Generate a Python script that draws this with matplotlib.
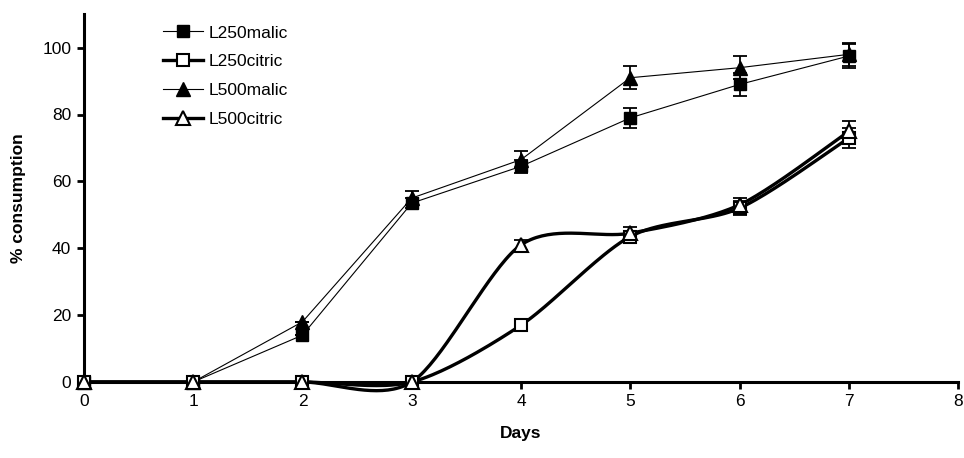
import numpy as np
import matplotlib
matplotlib.use("Agg")
import matplotlib.pyplot as plt
from matplotlib.lines import Line2D

plt.rcParams['font.family'] = ['Liberation Sans', 'DejaVu Sans']

days = [0, 1, 2, 3, 4, 5, 6, 7]
l250_malic = [0, 0, 14, 53.5, 64.5, 79, 89, 97.5]
l250_malic_err = [0, 0, 0, 1.5, 2, 3, 3.5, 3.5]
l500_malic = [0, 0, 18, 55, 66.5, 91, 94, 98]
l500_malic_err = [0, 0, 0, 2, 2.5, 3.5, 3.5, 3.5]
l250_citric = [0, 0, 0, 0, 17, 43.5, 52, 73]
l250_citric_err = [0, 0, 0, 0, 0, 1.5, 2, 3]
l500_citric = [0, 0, 0, 0, 41, 44.5, 53, 75]
l500_citric_err = [0, 0, 0, 0, 1.5, 2, 2, 3]


def smooth(xs, ys, n=40, k=6.0):
    # Catmull-Rom style Bezier smoothing (like spreadsheet "smoothed line")
    P = np.column_stack([xs, ys]).astype(float)
    out = []
    for i in range(len(P) - 1):
        p0 = P[i - 1] if i > 0 else P[i]
        p1 = P[i]
        p2 = P[i + 1]
        p3 = P[i + 2] if i + 2 < len(P) else P[i + 1]
        c1 = p1 + (p2 - p0) / k
        c2 = p2 - (p3 - p1) / k
        t = np.linspace(0, 1, n)[:, None]
        seg = ((1 - t) ** 3) * p1 + 3 * ((1 - t) ** 2) * t * c1 + 3 * (1 - t) * t ** 2 * c2 + t ** 3 * p2
        out.append(seg if i == 0 else seg[1:])
    out = np.vstack(out)
    return out[:, 0], out[:, 1]


fig = plt.figure(figsize=(9.64, 4.58), dpi=100)
ax = fig.add_axes([0.087, 0.166, 0.907, 0.803])

thin = 0.8
thick = 2.4
ms = 10

# malic series (thin straight lines)
ax.errorbar(days, l500_malic, yerr=l500_malic_err, color='black', lw=thin,
            marker='^', ms=ms, mfc='black', mec='black', ecolor='black',
            elinewidth=1.3, capsize=5, capthick=1.3, zorder=3, clip_on=False)
ax.errorbar(days, l250_malic, yerr=l250_malic_err, color='black', lw=thin,
            marker='s', ms=ms - 1, mfc='black', mec='black', ecolor='black',
            elinewidth=1.3, capsize=5, capthick=1.3, zorder=3, clip_on=False)

# citric series (thick smoothed lines)
for ys, err, mk in [(l250_citric, l250_citric_err, 's'), (l500_citric, l500_citric_err, '^')]:
    sx, sy = smooth(days, ys, k=7.0)
    ax.plot(sx, sy, color='black', lw=thick, zorder=4, solid_capstyle='round', clip_on=False)
    ax.errorbar(days, ys, yerr=err, fmt='none', ecolor='black', elinewidth=1.3,
                capsize=5, capthick=1.3, zorder=4)
    ax.plot(days, ys, linestyle='none', marker=mk, ms=ms - (1 if mk == 's' else 0),
            mfc='white', mec='black', mew=1.5, zorder=5, clip_on=False)

ax.set_xlim(0, 8)
ax.set_ylim(0, 110)
ax.set_xticks(range(0, 9))
ax.set_yticks(range(0, 101, 20))
ax.spines['top'].set_visible(False)
ax.spines['right'].set_visible(False)
for s in ['left', 'bottom']:
    ax.spines[s].set_linewidth(2.2)
ax.tick_params(axis='both', direction='out', length=5, width=2, labelsize=12.5, pad=4)
ax.set_xlabel('Days', fontsize=12.5, fontweight='bold', labelpad=12)
ax.set_ylabel('% consumption', fontsize=12.5, fontweight='bold', labelpad=12)

handles = [
    Line2D([], [], color='black', lw=thin, marker='s', ms=ms - 1, mfc='black', mec='black'),
    Line2D([], [], color='black', lw=thick, marker='s', ms=ms - 1, mfc='white', mec='black', mew=1.5),
    Line2D([], [], color='black', lw=thin, marker='^', ms=ms, mfc='black', mec='black'),
    Line2D([], [], color='black', lw=thick, marker='^', ms=ms, mfc='white', mec='black', mew=1.5),
]
labels = ['L250malic', 'L250citric', 'L500malic', 'L500citric']
ax.legend(handles, labels, loc='upper left', bbox_to_anchor=(0.073, 1.012), frameon=False,
          fontsize=12.5, handlelength=2.3, handletextpad=0.3, labelspacing=0.78)

fig.savefig('out.png', dpi=100)
